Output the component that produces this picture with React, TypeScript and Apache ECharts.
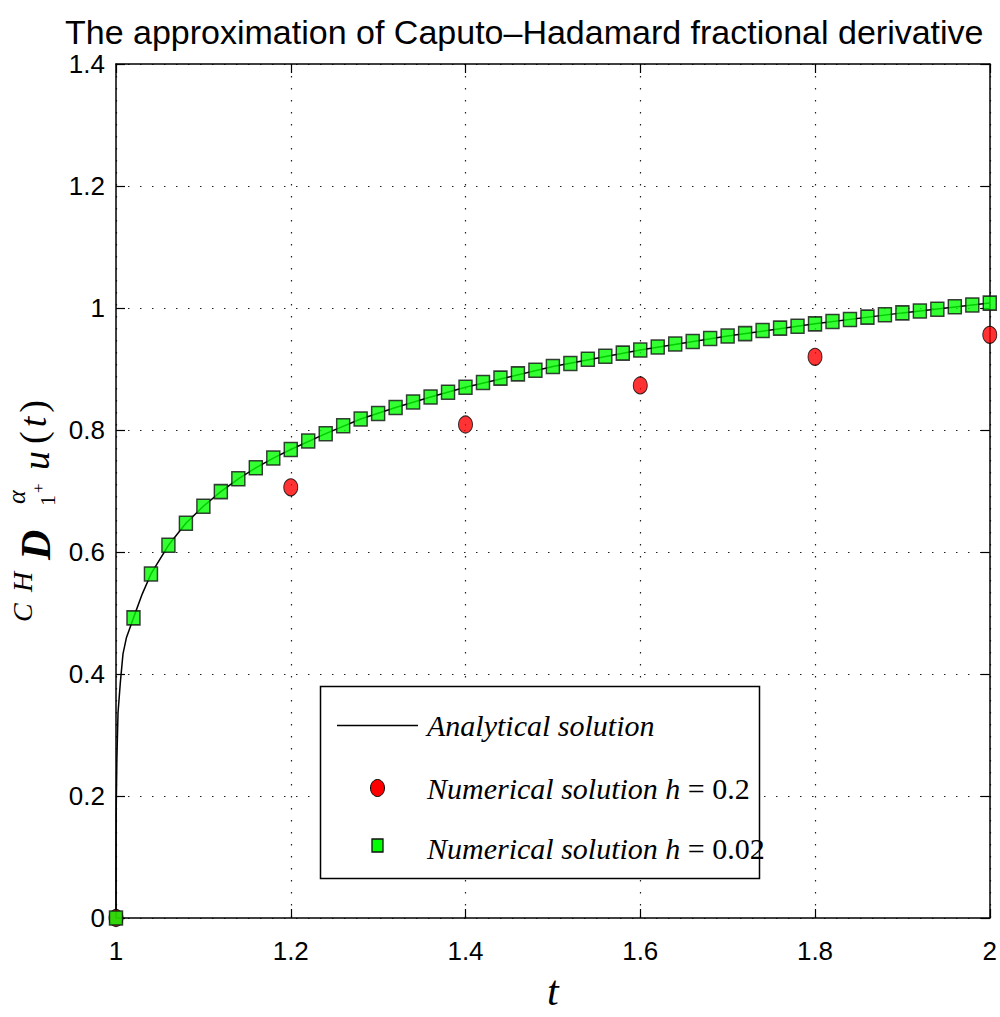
import React, { useEffect, useRef } from "react";
import * as echarts from "echarts";

const titleText = "The approximation of Caputo\u2013Hadamard fractional derivative";

const xTickMin = 1;
const xTickMax = 2;
const xTickStep = 0.2;
const yTickMin = 0;
const yTickMax = 1.4;
const yTickStep = 0.2;

// Analytical solution
const tExact = [1, 1.0001, 1.0003, 1.001, 1.0023, 1.0049, 1.008, 1.012, 1.02, 1.03, 1.04, 1.06, 1.08, 1.1, 1.12, 1.14, 1.16, 1.18, 1.2, 1.24, 1.28, 1.32, 1.36, 1.4, 1.5, 1.6, 1.7, 1.8, 1.9, 2];
const vExact = [0, 0.12, 0.185, 0.26, 0.336, 0.385, 0.433, 0.46, 0.492, 0.531, 0.564, 0.611, 0.647, 0.675, 0.699, 0.72, 0.738, 0.754, 0.768, 0.794, 0.818, 0.837, 0.854, 0.87, 0.904, 0.931, 0.954, 0.974, 0.992, 1.008];

// Numerical solution h = 0.2
const tH02 = [1, 1.2, 1.4, 1.6, 1.8, 2];
const vH02 = [0, 0.706, 0.809, 0.873, 0.92, 0.956];

// Numerical solution h = 0.02
const tH002 = [1, 1.02, 1.04, 1.06, 1.08, 1.1, 1.12, 1.14, 1.16, 1.18, 1.2, 1.22, 1.24, 1.26, 1.28, 1.3, 1.32, 1.34, 1.36, 1.38, 1.4, 1.42, 1.44, 1.46, 1.48, 1.5, 1.52, 1.54, 1.56, 1.58, 1.6, 1.62, 1.64, 1.66, 1.68, 1.7, 1.72, 1.74, 1.76, 1.78, 1.8, 1.82, 1.84, 1.86, 1.88, 1.9, 1.92, 1.94, 1.96, 1.98, 2];
const vH002 = [0, 0.492, 0.564, 0.611, 0.647, 0.675, 0.699, 0.72, 0.738, 0.754, 0.768, 0.782, 0.794, 0.807, 0.818, 0.827, 0.837, 0.846, 0.854, 0.862, 0.87, 0.878, 0.885, 0.892, 0.898, 0.904, 0.909, 0.916, 0.921, 0.926, 0.931, 0.936, 0.941, 0.945, 0.95, 0.954, 0.958, 0.963, 0.967, 0.97, 0.974, 0.978, 0.981, 0.985, 0.989, 0.992, 0.995, 0.998, 1.002, 1.005, 1.008];

const legendNames = ["Analytical solution", "Numerical solution h ", "Numerical solution h "];
const legendValues = ["", "= 0.2", "= 0.02"];

const SANS = '"Liberation Sans", Arial, sans-serif';
const SERIF = '"Liberation Serif", "Times New Roman", serif';

export default function App() {
  const ref = useRef<HTMLDivElement>(null);

  useEffect(() => {
    if (!ref.current) return;
    const chart = echarts.init(ref.current, null, { renderer: "svg" });

    const zip = (a: number[], b: number[]) => a.map((v, i) => [v, b[i]]);

    const axisLine = { show: true, onZero: false, lineStyle: { color: "#000", width: 1.5 } };
    const axisTick = { show: true, inside: true, length: 9, lineStyle: { color: "#000", width: 1.2 } };
    const splitLine = { show: true, lineStyle: { color: "#222", width: 1.2, type: [1.5, 10.5] } };

    const rotText = (x: number, y: number, text: string, size: number, italic: boolean, extra: any = {}) => ({
      type: "text",
      x,
      y,
      rotation: Math.PI / 2,
      z: 100,
      style: {
        text,
        fontFamily: SERIF,
        fontSize: size,
        fontStyle: italic ? "italic" : "normal",
        fill: "#000",
        align: "left",
        verticalAlign: "middle",
        ...extra,
      },
    });

    const legendTextStyle = {
      fontFamily: SERIF,
      fontSize: 30,
      fill: "#000",
      align: "left",
      verticalAlign: "middle",
      rich: {
        i: { fontFamily: SERIF, fontSize: 30, fontStyle: "italic", color: "#000" },
        n: { fontFamily: SERIF, fontSize: 30, fontStyle: "normal", color: "#000" },
      },
    };

    const option: any = {
      animation: false,
      backgroundColor: "#fff",
      title: {
        text: titleText,
        left: 60,
        top: 10,
        textStyle: { fontFamily: SANS, fontSize: 34, fontWeight: "normal", color: "#000" },
      },
      grid: { left: 116, right: 10, top: 64, bottom: 90, containLabel: false },
      xAxis: [
        {
          type: "value",
          position: "bottom",
          min: xTickMin,
          max: xTickMax,
          interval: xTickStep,
          axisLine,
          axisTick,
          splitLine,
          axisLabel: { fontFamily: SANS, fontSize: 26, color: "#000", margin: 20 },
          name: "t",
          nameLocation: "middle",
          nameGap: 52,
          nameTextStyle: { fontFamily: SERIF, fontStyle: "italic", fontSize: 42, color: "#000" },
        },
        {
          type: "value",
          position: "top",
          min: xTickMin,
          max: xTickMax,
          interval: xTickStep,
          axisLine,
          axisTick,
          splitLine: { show: false },
          axisLabel: { show: false },
        },
      ],
      yAxis: [
        {
          type: "value",
          position: "left",
          min: yTickMin,
          max: yTickMax,
          interval: yTickStep,
          axisLine,
          axisTick,
          splitLine,
          axisLabel: { fontFamily: SANS, fontSize: 26, color: "#000", margin: 11 },
        },
        {
          type: "value",
          position: "right",
          min: yTickMin,
          max: yTickMax,
          interval: yTickStep,
          axisLine,
          axisTick,
          splitLine: { show: false },
          axisLabel: { show: false },
        },
      ],
      series: [
        {
          name: legendNames[0],
          type: "line",
          data: zip(tExact, vExact),
          showSymbol: false,
          symbol: "none",
          lineStyle: { color: "#000", width: 1.5 },
          clip: false,
          z: 2,
        },
        {
          name: "h02",
          type: "scatter",
          data: zip(tH02, vH02),
          symbol: "circle",
          symbolSize: [14, 17],
          itemStyle: { color: "#ff0000", borderColor: "#000", borderWidth: 1 },
          clip: false,
          z: 3,
        },
        {
          name: "h002",
          type: "scatter",
          data: zip(tH002, vH002),
          symbol: "rect",
          symbolSize: [13, 14],
          itemStyle: { color: "#00ff00", borderColor: "#111", borderWidth: 1.5 },
          clip: false,
          z: 4,
        },
      ],
      graphic: [
        // y-axis label: ^{CH}D^{alpha}_{1^+} u(t)
        rotText(22, 622, "C", 28, true),
        rotText(22, 592, "H", 28, true),
        rotText(36, 560, "D", 42, true, { fontWeight: "bold" }),
        rotText(16, 504, "\u03b1", 26, true),
        rotText(47, 506, "1", 22, false),
        rotText(38, 493, "+", 17, false),
        rotText(36, 470, "u", 38, true),
        {
          type: "text",
          x: 33,
          y: 444,
          rotation: Math.PI / 2,
          z: 100,
          style: {
            text: "{n|(}{i|t}{n|)}",
            fontFamily: SERIF,
            fontSize: 38,
            fill: "#000",
            align: "left",
            verticalAlign: "middle",
            rich: {
              n: { fontFamily: SERIF, fontSize: 38, color: "#000" },
              i: { fontFamily: SERIF, fontSize: 38, fontStyle: "italic", color: "#000", padding: [0, 4, 0, 4] },
            },
          },
        },
        // legend
        {
          type: "rect",
          z: 100,
          shape: { x: 320.5, y: 686.5, width: 439, height: 192 },
          style: { fill: "#fff", stroke: "#000", lineWidth: 1.5 },
        },
        {
          type: "line",
          z: 101,
          shape: { x1: 337, y1: 725.5, x2: 418, y2: 725.5 },
          style: { stroke: "#000", lineWidth: 1.5 },
        },
        {
          type: "ellipse",
          z: 101,
          shape: { cx: 377.5, cy: 788, rx: 7, ry: 8.5 },
          style: { fill: "#ff0000", stroke: "#000", lineWidth: 1 },
        },
        {
          type: "rect",
          z: 101,
          shape: { x: 372, y: 839, width: 11, height: 13 },
          style: { fill: "#00ff00", stroke: "#111", lineWidth: 1.3 },
        },
        {
          type: "text",
          z: 101,
          x: 427,
          y: 725,
          style: { ...legendTextStyle, text: "{i|" + legendNames[0] + "}" },
        },
        {
          type: "text",
          z: 101,
          x: 427,
          y: 788,
          style: { ...legendTextStyle, text: "{i|" + legendNames[1] + "}{n|" + legendValues[1] + "}" },
        },
        {
          type: "text",
          z: 101,
          x: 427,
          y: 848,
          style: { ...legendTextStyle, text: "{i|" + legendNames[2] + "}{n|" + legendValues[2] + "}" },
        },
      ],
    };

    chart.setOption(option);
    return () => chart.dispose();
  }, []);

  return (
    <div
      ref={ref}
      style={{ position: "fixed", left: 0, top: 0, width: 1000, height: 1017, background: "#fff" }}
    />
  );
}
